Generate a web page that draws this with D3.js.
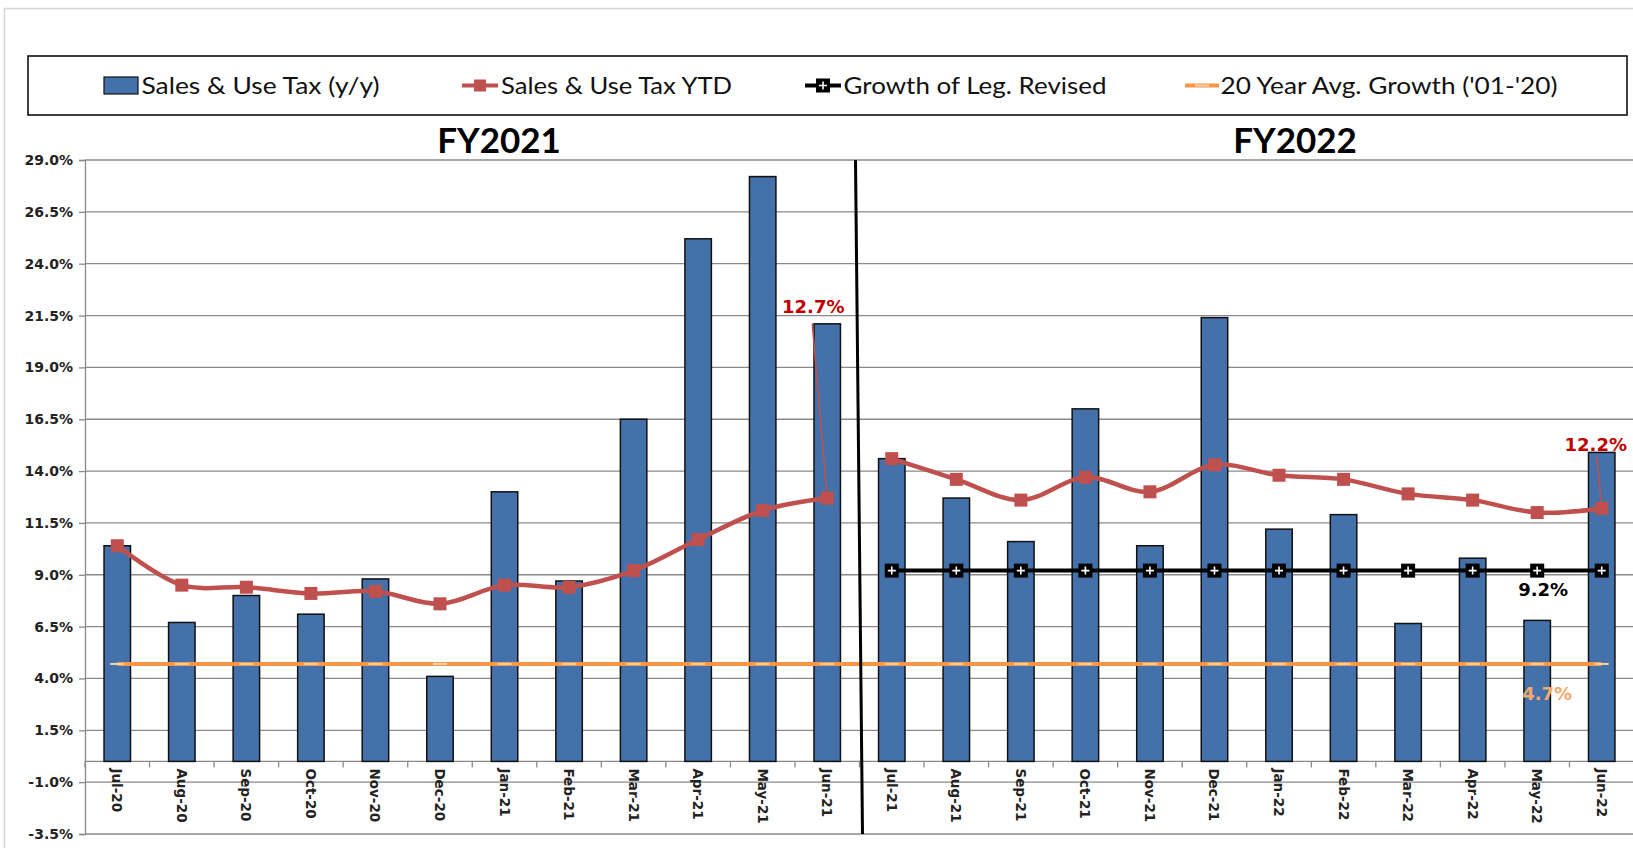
<!DOCTYPE html>
<html>
<head>
<meta charset="utf-8">
<script src="https://cdn.jsdelivr.net/npm/d3@7"></script>
<style>
  html, body { margin: 0; padding: 0; background: #fff; }
  svg { display: block; }
</style>
</head>
<body>
<svg id="chart"></svg>
<script>
// months on the category axis
const months = ["Jul-20", "Aug-20", "Sep-20", "Oct-20", "Nov-20", "Dec-20",
  "Jan-21", "Feb-21", "Mar-21", "Apr-21", "May-21", "Jun-21",
  "Jul-21", "Aug-21", "Sep-21", "Oct-21", "Nov-21", "Dec-21",
  "Jan-22", "Feb-22", "Mar-22", "Apr-22", "May-22", "Jun-22"];
const fiscalYear = ["FY2021", "FY2021", "FY2021", "FY2021", "FY2021", "FY2021",
  "FY2021", "FY2021", "FY2021", "FY2021", "FY2021", "FY2021",
  "FY2022", "FY2022", "FY2022", "FY2022", "FY2022", "FY2022",
  "FY2022", "FY2022", "FY2022", "FY2022", "FY2022", "FY2022"];

// Sales & Use Tax (y/y) bars
const salesYoY = [10.4, 6.7, 8.0, 7.1, 8.8, 4.1, 13.0, 8.7, 16.5, 25.2, 28.2, 21.1,
  14.6, 12.7, 10.6, 17.0, 10.4, 21.4, 11.2, 11.9, 6.65, 9.8, 6.8, 14.9];
// Sales & Use Tax YTD
const salesYTD = [10.4, 8.5, 8.4, 8.1, 8.2, 7.6, 8.5, 8.4, 9.2, 10.7, 12.1, 12.7,
  14.6, 13.6, 12.6, 13.7, 13.0, 14.3, 13.8, 13.6, 12.9, 12.6, 12.0, 12.2];
// Growth of Leg. Revised (FY2022 only)
const legRevised = [null, null, null, null, null, null, null, null, null, null, null, null,
  9.2, 9.2, 9.2, 9.2, 9.2, 9.2, 9.2, 9.2, 9.2, 9.2, 9.2, 9.2];
// 20 Year Avg. Growth ('01-'20)
const avgGrowth = [4.7, 4.7, 4.7, 4.7, 4.7, 4.7, 4.7, 4.7, 4.7, 4.7, 4.7, 4.7,
  4.7, 4.7, 4.7, 4.7, 4.7, 4.7, 4.7, 4.7, 4.7, 4.7, 4.7, 4.7];

const yTicks = [-3.5, -1.0, 1.5, 4.0, 6.5, 9.0, 11.5, 14.0, 16.5, 19.0, 21.5, 24.0, 26.5, 29.0];

const legendItems = ["Sales & Use Tax (y/y)", "Sales & Use Tax YTD", "Growth of Leg. Revised", "20 Year Avg. Growth ('01-'20)"];

const W = 1633, H = 848;
const blue = "#4571aa", red = "#c0504d", orange = "#f79646";

const svg = d3.select("#chart").attr("width", W).attr("height", H);

// outer chart-area border
svg.append("rect")
  .attr("x", 4.5).attr("y", 8.5).attr("width", W + 10).attr("height", H + 10)
  .attr("fill", "none").attr("stroke", "#d4d4d4").attr("stroke-width", 1.5);

const x = d3.scaleBand().domain(months).range([85, 1634]).paddingInner(0).paddingOuter(0);
const y = d3.scaleLinear().domain([-3.5, 29]).range([834, 160]);
const cx = (m) => x(m) + x.bandwidth() / 2;

// gridlines
svg.append("g")
  .selectAll("line")
  .data(yTicks)
  .enter()
  .append("line")
  .attr("x1", 85).attr("x2", W)
  .attr("y1", (d) => y(d)).attr("y2", (d) => y(d))
  .attr("stroke", "#8a8a8a").attr("stroke-width", 1.3);

// y axis
const yAxis = svg.append("g")
  .attr("transform", "translate(85,0)")
  .call(d3.axisLeft(y).tickValues(yTicks).tickSize(6).tickPadding(6).tickFormat((d) => d.toFixed(1) + "%"));
yAxis.select(".domain").attr("stroke", "#8a8a8a").attr("stroke-width", 1.3);
yAxis.selectAll(".tick line").attr("stroke", "#8a8a8a").attr("stroke-width", 1.3);
yAxis.selectAll("text")
  .attr("fill", "#222")
  .style("font-family", "'DejaVu Sans', Verdana, sans-serif")
  .style("font-weight", "bold")
  .style("font-size", "14px");

// x axis at zero
svg.append("line")
  .attr("x1", 85).attr("x2", W)
  .attr("y1", y(0)).attr("y2", y(0))
  .attr("stroke", "#8a8a8a").attr("stroke-width", 1.3);
svg.append("g")
  .selectAll("line")
  .data(months)
  .enter()
  .append("line")
  .attr("x1", (d) => x(d)).attr("x2", (d) => x(d))
  .attr("y1", y(0)).attr("y2", y(0) + 6)
  .attr("stroke", "#8a8a8a").attr("stroke-width", 1.3);
svg.append("g")
  .selectAll("text")
  .data(months)
  .enter()
  .append("text")
  .attr("transform", (d) => `translate(${cx(d) - 5},${y(0) + 7}) rotate(90)`)
  .attr("text-anchor", "start")
  .style("font-family", "'DejaVu Sans', Verdana, sans-serif")
  .style("font-weight", "bold")
  .style("font-size", "13.5px")
  .attr("fill", "#222")
  .text((d) => d);

// bars
const barW = x.bandwidth() * 0.41;
svg.append("g")
  .selectAll("rect")
  .data(months)
  .enter()
  .append("rect")
  .attr("x", (d) => cx(d) - barW / 2)
  .attr("y", (d, i) => y(salesYoY[i]))
  .attr("width", barW)
  .attr("height", (d, i) => y(0) - y(salesYoY[i]))
  .attr("fill", blue)
  .attr("stroke", "#111")
  .attr("stroke-width", 1.5);

// 20 year average line
const flatLine = d3.line()
  .defined((d) => d.v != null)
  .x((d) => cx(d.m))
  .y((d) => y(d.v));
const avgPts = months.map((m, i) => ({ m, v: avgGrowth[i] }));
svg.append("path")
  .datum(avgPts)
  .attr("d", flatLine)
  .attr("fill", "none").attr("stroke", orange).attr("stroke-width", 4);
svg.append("g")
  .selectAll("rect")
  .data(avgPts)
  .enter()
  .append("rect")
  .attr("x", (d) => cx(d.m) - 7).attr("y", (d) => y(d.v) - 1)
  .attr("width", 14).attr("height", 2)
  .attr("fill", "#fbd3ad");

// YTD line, one smoothed segment per fiscal year
const smooth = d3.line()
  .x((d) => cx(d.m))
  .y((d) => y(d.v))
  .curve(d3.curveCatmullRom.alpha(0.5));
const ytdPts = months.map((m, i) => ({ m, v: salesYTD[i], fy: fiscalYear[i] }));
const ytdByFy = d3.groups(ytdPts, (d) => d.fy);
svg.append("g")
  .selectAll("path")
  .data(ytdByFy)
  .enter()
  .append("path")
  .attr("d", (d) => smooth(d[1]))
  .attr("fill", "none").attr("stroke", red).attr("stroke-width", 4.5);
svg.append("g")
  .selectAll("rect")
  .data(ytdPts)
  .enter()
  .append("rect")
  .attr("x", (d) => cx(d.m) - 6.5).attr("y", (d) => y(d.v) - 6.5)
  .attr("width", 13).attr("height", 13)
  .attr("fill", red);

// Growth of Leg. Revised line
const legPts = months.map((m, i) => ({ m, v: legRevised[i] })).filter((d) => d.v != null);
svg.append("path")
  .datum(legPts)
  .attr("d", flatLine)
  .attr("fill", "none").attr("stroke", "#000").attr("stroke-width", 4);
const legMarks = svg.append("g")
  .selectAll("g")
  .data(legPts)
  .enter()
  .append("g")
  .attr("transform", (d) => `translate(${cx(d.m)},${y(d.v)})`);
legMarks.append("rect")
  .attr("x", -7).attr("y", -7).attr("width", 14).attr("height", 14)
  .attr("fill", "#000");
legMarks.append("path")
  .attr("d", "M-4,0H4M0,-4V4")
  .attr("stroke", "#fff").attr("stroke-width", 1.6);

// fiscal year divider
const divX = x("Jul-21");
svg.append("line")
  .attr("x1", divX - 4).attr("x2", divX + 3)
  .attr("y1", y(29)).attr("y2", y(-3.5))
  .attr("stroke", "#000").attr("stroke-width", 3);

// annotations
const ann = svg.append("g")
  .style("font-family", "'DejaVu Sans', Verdana, sans-serif")
  .style("font-weight", "bold")
  .style("font-size", "18px");
ann.append("line")
  .attr("x1", cx("Jun-21") - 15).attr("y1", y(21.5) + 8)
  .attr("x2", cx("Jun-21")).attr("y2", y(salesYTD[11]))
  .attr("stroke", red).attr("stroke-width", 1.5);
ann.append("text")
  .attr("x", cx("Jun-21") - 14).attr("y", y(21.5) - 3)
  .attr("text-anchor", "middle").attr("fill", "#c00000")
  .text(salesYTD[11].toFixed(1) + "%");
ann.append("line")
  .attr("x1", cx("Jun-22") - 5).attr("y1", y(salesYTD[23]) - 52)
  .attr("x2", cx("Jun-22")).attr("y2", y(salesYTD[23]))
  .attr("stroke", red).attr("stroke-width", 1.5);
ann.append("text")
  .attr("x", cx("Jun-22") - 6).attr("y", y(salesYTD[23]) - 57)
  .attr("text-anchor", "middle").attr("fill", "#c00000")
  .text(salesYTD[23].toFixed(1) + "%");
ann.append("text")
  .attr("x", cx("May-22") + 6).attr("y", y(legRevised[22]) + 25)
  .attr("text-anchor", "middle").attr("fill", "#000")
  .text(legRevised[22].toFixed(1) + "%");
ann.append("text")
  .attr("x", cx("May-22") + 10).attr("y", y(avgGrowth[22]) + 36)
  .attr("text-anchor", "middle").attr("fill", "#f2a96b")
  .text(avgGrowth[22].toFixed(1) + "%");

// fiscal year titles
const titles = svg.append("g")
  .style("font-family", "Lato, 'Open Sans', sans-serif")
  .style("font-weight", "bold")
  .style("font-size", "35px")
  .attr("fill", "#000")
  .attr("text-anchor", "middle");
titles.append("text").attr("x", 499).attr("y", 153).text("FY2021");
titles.append("text").attr("x", 1295).attr("y", 153).text("FY2022");

// legend
svg.append("rect")
  .attr("x", 28).attr("y", 56).attr("width", 1599).attr("height", 59)
  .attr("fill", "#fff").attr("stroke", "#000").attr("stroke-width", 1.5);
const legSym = [104, 462, 805, 1185];
const legText = [141.5, 501, 843.5, 1220.5];
const legTextW = [238, 231, 263, 337];
const ly = 85.5;
const lg = svg.append("g");
lg.append("rect").attr("x", legSym[0]).attr("y", 77).attr("width", 34).attr("height", 17)
  .attr("fill", blue).attr("stroke", "#111").attr("stroke-width", 1.2);
lg.append("line").attr("x1", legSym[1]).attr("x2", legSym[1] + 36).attr("y1", ly).attr("y2", ly)
  .attr("stroke", red).attr("stroke-width", 4);
lg.append("rect").attr("x", legSym[1] + 12).attr("y", ly - 6).attr("width", 12).attr("height", 12).attr("fill", red);
lg.append("line").attr("x1", legSym[2]).attr("x2", legSym[2] + 36).attr("y1", ly).attr("y2", ly)
  .attr("stroke", "#000").attr("stroke-width", 4);
lg.append("rect").attr("x", legSym[2] + 11).attr("y", ly - 7).attr("width", 14).attr("height", 14).attr("fill", "#000");
lg.append("path").attr("d", `M${legSym[2] + 14},${ly}H${legSym[2] + 22}M${legSym[2] + 18},${ly - 4}V${ly + 4}`)
  .attr("stroke", "#fff").attr("stroke-width", 1.6);
lg.append("line").attr("x1", legSym[3]).attr("x2", legSym[3] + 34).attr("y1", ly).attr("y2", ly)
  .attr("stroke", orange).attr("stroke-width", 4);
lg.append("rect").attr("x", legSym[3] + 10).attr("y", ly - 1).attr("width", 14).attr("height", 2).attr("fill", "#fbd3ad");
lg.selectAll("text")
  .data(legendItems)
  .enter()
  .append("text")
  .attr("x", (d, i) => legText[i])
  .attr("y", 93.5)
  .attr("textLength", (d, i) => legTextW[i])
  .attr("lengthAdjust", "spacingAndGlyphs")
  .style("font-family", "Lato, 'Open Sans', sans-serif")
  .style("font-size", "24px")
  .attr("fill", "#111")
  .text((d) => d);
</script>
</body>
</html>
